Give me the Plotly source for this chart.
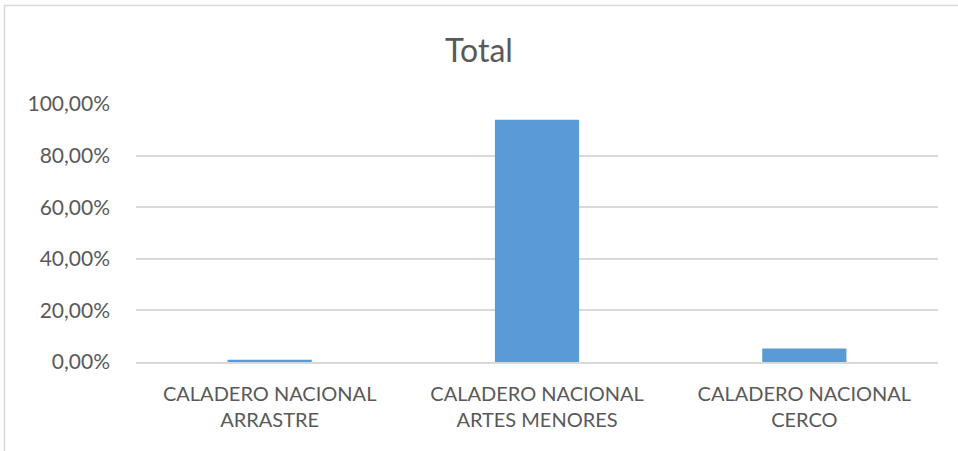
import plotly.graph_objects as go

categories = ["CALADERO NACIONAL<br>ARRASTRE", "CALADERO NACIONAL<br>ARTES MENORES", "CALADERO NACIONAL<br>CERCO"]
values = [0.009, 0.939, 0.052]
tick_vals = [0, 0.2, 0.4, 0.6, 0.8, 1.0]

W, H = 958, 451
L, R, T, B = 136, 20, 104, 89

fig = go.Figure(go.Bar(x=categories, y=values, marker=dict(color="#5b9bd5", line=dict(width=0)), width=0.315))

pw = W - L - R
ph = H - T - B
fig.add_shape(type="rect", xref="paper", yref="paper",
              x0=(4.5 - L) / pw, x1=(W + 10 - L) / pw,
              y0=-(H + 10 - (H - B)) / ph, y1=((H - B) - 5.5) / ph,
              line=dict(color="#d9d9d9", width=1.5), fillcolor="rgba(0,0,0,0)", layer="below")

fig.update_layout(
    width=W, height=H,
    margin=dict(l=L, r=R, t=T, b=B, autoexpand=False),
    paper_bgcolor="white", plot_bgcolor="white",
    separators=",.",
    font=dict(family="Lato", color="#595959", size=20),
    title=dict(text="Total", x=0.5, xanchor="center", y=1 - 51 / H, yanchor="middle",
               font=dict(size=32, color="#595959")),
    showlegend=False,
    bargap=0.685,
    xaxis=dict(showline=True, linecolor="#d9d9d9", linewidth=1.5, ticks="", showgrid=False,
               tickfont=dict(size=20), ticklabelstandoff=13),
    yaxis=dict(range=[0, 1.0], tickvals=tick_vals, tickformat=".2%", showgrid=True,
               gridcolor="#d9d9d9", gridwidth=1.5, zeroline=False, showline=False,
               ticks="", ticklabelstandoff=25, tickfont=dict(size=21)),
)

fig.write_html("out.html", config={"displayModeBar": False},
               post_script="document.body.style.margin='0';document.body.style.padding='0';")
